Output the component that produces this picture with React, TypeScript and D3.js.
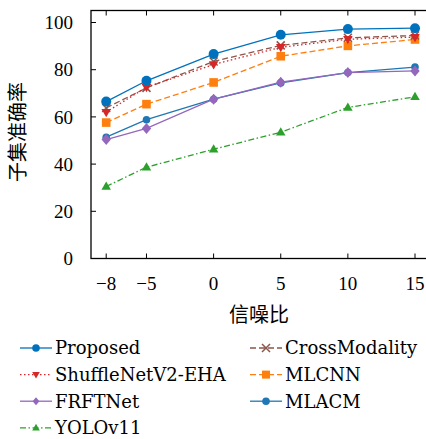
import React from "react";
import * as d3 from "d3";

const snr = [-8, -5, 0, 5, 10, 15];
const proposed = [66.5, 75.3, 86.6, 94.8, 97.2, 97.6];
const crossModality = [63.8, 72.3, 83.5, 90.3, 93.5, 94.5];
const shuffleNet = [62.0, 72.6, 82.2, 89.5, 92.9, 93.8];
const mlcnn = [57.6, 65.4, 74.6, 85.7, 90.1, 92.8];
const frftNet = [50.4, 55.1, 67.5, 74.7, 78.8, 79.5];
const mlacm = [51.4, 58.8, 67.5, 74.4, 78.8, 81.1];
const yolo = [30.5, 38.7, 46.3, 53.5, 64.0, 68.5];
const yTicks = [0, 20, 40, 60, 80, 100];
const xTicks = [-8, -5, 0, 5, 10, 15];

type S = { name: string; values: number[]; color: string; dash: string; marker: string; size: number };

const series: S[] = [
  { name: "Proposed", values: proposed, color: "#0072bd", dash: "", marker: "circle", size: 5 },
  { name: "CrossModality", values: crossModality, color: "#8c564b", dash: "6,3", marker: "x", size: 4 },
  { name: "ShuffleNetV2-EHA", values: shuffleNet, color: "#d62728", dash: "1.5,2.5", marker: "tridown", size: 5 },
  { name: "MLCNN", values: mlcnn, color: "#ff7f0e", dash: "6,3", marker: "square", size: 4.3 },
  { name: "FRFTNet", values: frftNet, color: "#9467bd", dash: "", marker: "diamond", size: 5.5 },
  { name: "MLACM", values: mlacm, color: "#1f77b4", dash: "", marker: "circle", size: 3.8 },
  { name: "YOLOv11", values: yolo, color: "#2ca02c", dash: "6,2.5,1.5,2.5", marker: "triup", size: 5 },
];

const drawOrder = [5, 4, 6, 3, 1, 2, 0];

function Marker({ type, x, y, r, color }: { type: string; x: number; y: number; r: number; color: string }) {
  if (type === "circle") return <circle cx={x} cy={y} r={r} fill={color} />;
  if (type === "square") return <rect x={x - r} y={y - r} width={2 * r} height={2 * r} fill={color} />;
  if (type === "diamond")
    return <path d={`M${x},${y - r}L${x + r * 0.85},${y}L${x},${y + r}L${x - r * 0.85},${y}Z`} fill={color} />;
  if (type === "triup")
    return <path d={`M${x},${y - r}L${x + r * 0.95},${y + r * 0.65}L${x - r * 0.95},${y + r * 0.65}Z`} fill={color} />;
  if (type === "tridown")
    return <path d={`M${x},${y + r}L${x + r * 0.95},${y - r * 0.65}L${x - r * 0.95},${y - r * 0.65}Z`} fill={color} />;
  if (type === "x")
    return (
      <path d={`M${x - r},${y - r}L${x + r},${y + r}M${x - r},${y + r}L${x + r},${y - r}`} stroke={color} strokeWidth={1.5} />
    );
  return null;
}

export default function App() {
  const left = 91, right = 430, top = 10.5, bottom = 258.5;
  const x = d3.scaleLinear().domain([-8, 15]).range([106.2, 415]);
  const y = d3.scaleLinear().domain([0, 100]).range([bottom, 22.5]);
  const line = d3
    .line<number>()
    .x((_, i) => x(snr[i]))
    .y((v) => y(v));
  const serif = "'Liberation Serif', 'DejaVu Serif', serif";
  const legendFont = "'DejaVu Serif', serif";
  const cjk = "'Noto Sans CJK SC', sans-serif";

  const legendRows = [
    { s: 0, col: 0, row: 0 },
    { s: 1, col: 1, row: 0 },
    { s: 2, col: 0, row: 1 },
    { s: 3, col: 1, row: 1 },
    { s: 4, col: 0, row: 2 },
    { s: 5, col: 1, row: 2 },
    { s: 6, col: 0, row: 3 },
  ];

  return (
    <svg width={426} height={439} style={{ position: "absolute", left: 0, top: 0, background: "#fff" }}>
      <defs>
        <clipPath id="plotclip">
          <rect x={left} y={top} width={right - left} height={bottom - top} />
        </clipPath>
      </defs>
      <rect x={left} y={top} width={right - left} height={bottom - top} fill="none" stroke="#000" strokeWidth={1.3} />
      {yTicks.map((t) => (
        <g key={"y" + t}>
          <line x1={left} x2={left + 5} y1={y(t)} y2={y(t)} stroke="#000" strokeWidth={1} />
          <text x={73} y={y(t)} dy="0.35em" textAnchor="end" fontFamily={serif} fontSize={19}>
            {t}
          </text>
        </g>
      ))}
      {xTicks.map((t) => (
        <g key={"x" + t}>
          <line x1={x(t)} x2={x(t)} y1={bottom} y2={bottom - 5} stroke="#000" strokeWidth={1} />
          <line x1={x(t)} x2={x(t)} y1={top} y2={top + 5} stroke="#000" strokeWidth={1} />
          <text x={x(t)} y={283} dy="0.35em" textAnchor="middle" fontFamily={serif} fontSize={19}>
            {t < 0 ? "\u2212" + Math.abs(t) : t}
          </text>
        </g>
      ))}
      <text x={259} y={315} dy="0.35em" textAnchor="middle" fontFamily={cjk} fontSize={20}>
        信噪比
      </text>
      <text transform={`translate(18,132) rotate(-90)`} dy="0.35em" textAnchor="middle" fontFamily={cjk} fontSize={20}>
        子集准确率
      </text>
      <g clipPath="url(#plotclip)">
        {drawOrder.map((k) => {
          const s = series[k];
          return (
            <g key={s.name}>
              <path
                d={line(s.values) || ""}
                fill="none"
                stroke={s.color}
                strokeWidth={1.3}
                strokeDasharray={s.dash || undefined}
              />
              {s.values.map((v, i) => (
                <Marker key={i} type={s.marker} x={x(snr[i])} y={y(v)} r={s.size} color={s.color} />
              ))}
            </g>
          );
        })}
      </g>
      {legendRows.map(({ s, col, row }) => {
        const ser = series[s];
        const x0 = col === 0 ? 20 : 250;
        const yy = 348 + row * 26.6;
        return (
          <g key={ser.name}>
            <line
              x1={x0}
              x2={x0 + 32}
              y1={yy}
              y2={yy}
              stroke={ser.color}
              strokeWidth={1.3}
              strokeDasharray={ser.dash || undefined}
            />
            <Marker type={ser.marker} x={x0 + 16} y={yy} r={ser.marker === "circle" ? 3.8 : 4} color={ser.color} />
            <text x={x0 + 35} y={yy} dy="0.35em" fontFamily={legendFont} fontSize={18}>
              {ser.name}
            </text>
          </g>
        );
      })}
    </svg>
  );
}
